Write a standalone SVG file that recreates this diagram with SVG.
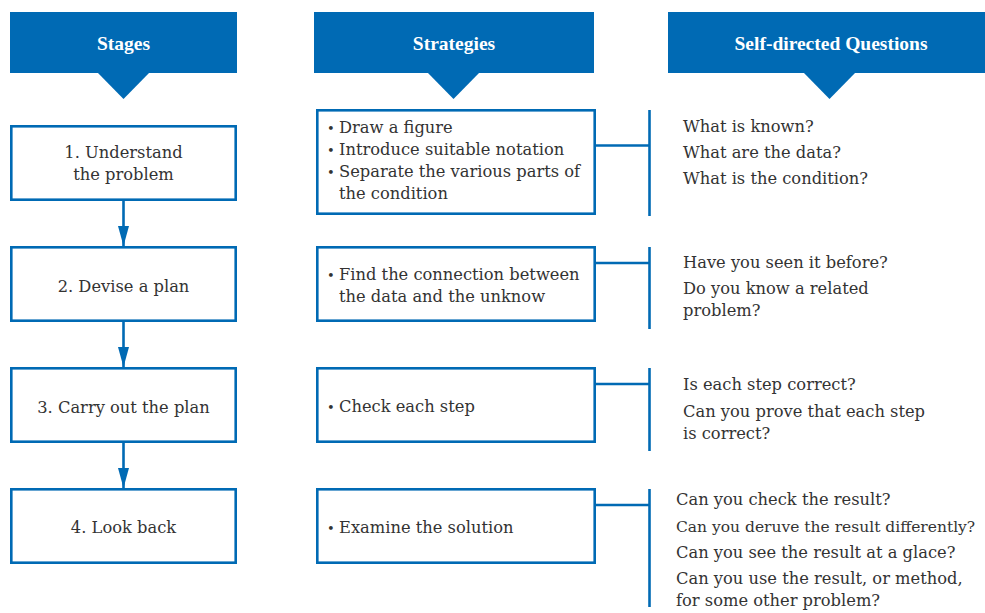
<svg xmlns="http://www.w3.org/2000/svg" width="985" height="613" viewBox="0 0 985 613">
<style>
.hdr{fill:#006ab4}
.hdrt{font-family:"Liberation Serif",serif;font-weight:bold;font-size:19.5px;fill:#fff;text-anchor:middle}
.box{fill:#fff;stroke:#006ab4;stroke-width:2.6}
.t{font-family:"DejaVu Serif",serif;font-size:16.3px;fill:#333}
.c{text-anchor:middle}
.b{font-size:13px}
.ln{stroke:#006ab4;stroke-width:2.6;fill:none}
</style>
<defs>
<marker id="ah" viewBox="0 0 20 11" refX="20" refY="5.5" markerWidth="20" markerHeight="11" markerUnits="userSpaceOnUse" orient="auto">
<path d="M0,0 L20,5.5 L0,11 Z" fill="#006ab4"/>
</marker>
</defs>
<rect width="985" height="613" fill="#fff"/>
<g id="hdr-stages">
<rect class="hdr" x="10" y="12" width="227" height="61"/>
<path class="hdr" d="M97,72 L150,72 L123.5,99 Z"/>
<text class="hdrt" x="123.5" y="50">Stages</text>
</g>
<g id="hdr-strategies">
<rect class="hdr" x="314" y="12" width="280" height="61"/>
<path class="hdr" d="M427,72 L480,72 L453.5,99 Z"/>
<text class="hdrt" x="454" y="50">Strategies</text>
</g>
<g id="hdr-questions">
<rect class="hdr" x="668" y="12" width="322" height="61"/>
<path class="hdr" d="M803,72 L856,72 L829.5,99 Z"/>
<text class="hdrt" x="831" y="50">Self-directed Questions</text>
</g>
<g id="stage1">
<rect class="box" x="11.3" y="126.3" width="224.4" height="73.4"/>
<text class="t c" x="123.5" y="158">1. Understand</text>
<text class="t c" x="123.5" y="180">the problem</text>
</g>
<g id="stage2">
<rect class="box" x="11.3" y="247.3" width="224.4" height="73.4"/>
<text class="t c" x="123.5" y="292">2. Devise a plan</text>
</g>
<g id="stage3">
<rect class="box" x="11.3" y="368.3" width="224.4" height="73.4"/>
<text class="t c" x="123.5" y="413">3. Carry out the plan</text>
</g>
<g id="stage4">
<rect class="box" x="11.3" y="489.3" width="224.4" height="73.4"/>
<text class="t c" x="123.5" y="533">4. Look back</text>
</g>
<g id="strategy1">
<rect class="box" x="317.3" y="110.3" width="277.4" height="103.4"/>
<text class="t" x="327" y="133"><tspan class="b">•</tspan><tspan x="339">Draw a figure</tspan></text>
<text class="t" x="327" y="155"><tspan class="b">•</tspan><tspan x="339">Introduce suitable notation</tspan></text>
<text class="t" x="327" y="177"><tspan class="b">•</tspan><tspan x="339">Separate the various parts of</tspan></text>
<text class="t" x="339" y="199">the condition</text>
</g>
<g id="strategy2">
<rect class="box" x="317.3" y="247.3" width="277.4" height="73.4"/>
<text class="t" x="327" y="280"><tspan class="b">•</tspan><tspan x="339">Find the connection between</tspan></text>
<text class="t" x="339" y="302">the data and the unknow</text>
</g>
<g id="strategy3">
<rect class="box" x="317.3" y="368.3" width="277.4" height="73.4"/>
<text class="t" x="327" y="412"><tspan class="b">•</tspan><tspan x="339">Check each step</tspan></text>
</g>
<g id="strategy4">
<rect class="box" x="317.3" y="489.3" width="277.4" height="73.4"/>
<text class="t" x="327" y="533"><tspan class="b">•</tspan><tspan x="339">Examine the solution</tspan></text>
</g>
<g id="questions1">
<text class="t" x="683" y="132">What is known?</text>
<text class="t" x="683" y="158">What are the data?</text>
<text class="t" x="683" y="184">What is the condition?</text>
</g>
<g id="questions2">
<text class="t" x="683" y="268">Have you seen it before?</text>
<text class="t" x="683" y="294">Do you know a related</text>
<text class="t" x="683" y="316">problem?</text>
</g>
<g id="questions3">
<text class="t" x="683" y="390">Is each step correct?</text>
<text class="t" x="683" y="417">Can you prove that each step</text>
<text class="t" x="683" y="439">is correct?</text>
</g>
<g id="questions4">
<text class="t" x="676" y="505">Can you check the result?</text>
<text class="t" x="676" y="532" style="font-size:15.5px">Can you deruve the result differently?</text>
<text class="t" x="676" y="558">Can you see the result at a glace?</text>
<text class="t" x="676" y="584">Can you use the result, or method,</text>
<text class="t" x="676" y="606">for some other problem?</text>
</g>
<g id="connectors">
<line class="ln" x1="123.5" y1="201" x2="123.5" y2="246" marker-end="url(#ah)"/>
<line class="ln" x1="123.5" y1="322" x2="123.5" y2="367" marker-end="url(#ah)"/>
<line class="ln" x1="123.5" y1="443" x2="123.5" y2="488" marker-end="url(#ah)"/>
<line class="ln" x1="596" y1="145.5" x2="649" y2="145.5"/>
<line class="ln" x1="649.5" y1="110" x2="649.5" y2="216"/>
<line class="ln" x1="596" y1="263" x2="649" y2="263"/>
<line class="ln" x1="649.5" y1="247" x2="649.5" y2="329"/>
<line class="ln" x1="596" y1="384" x2="649" y2="384"/>
<line class="ln" x1="649.5" y1="368" x2="649.5" y2="451"/>
<line class="ln" x1="596" y1="505" x2="649" y2="505"/>
<line class="ln" x1="649.5" y1="489" x2="649.5" y2="607"/>
</g>
</svg>
